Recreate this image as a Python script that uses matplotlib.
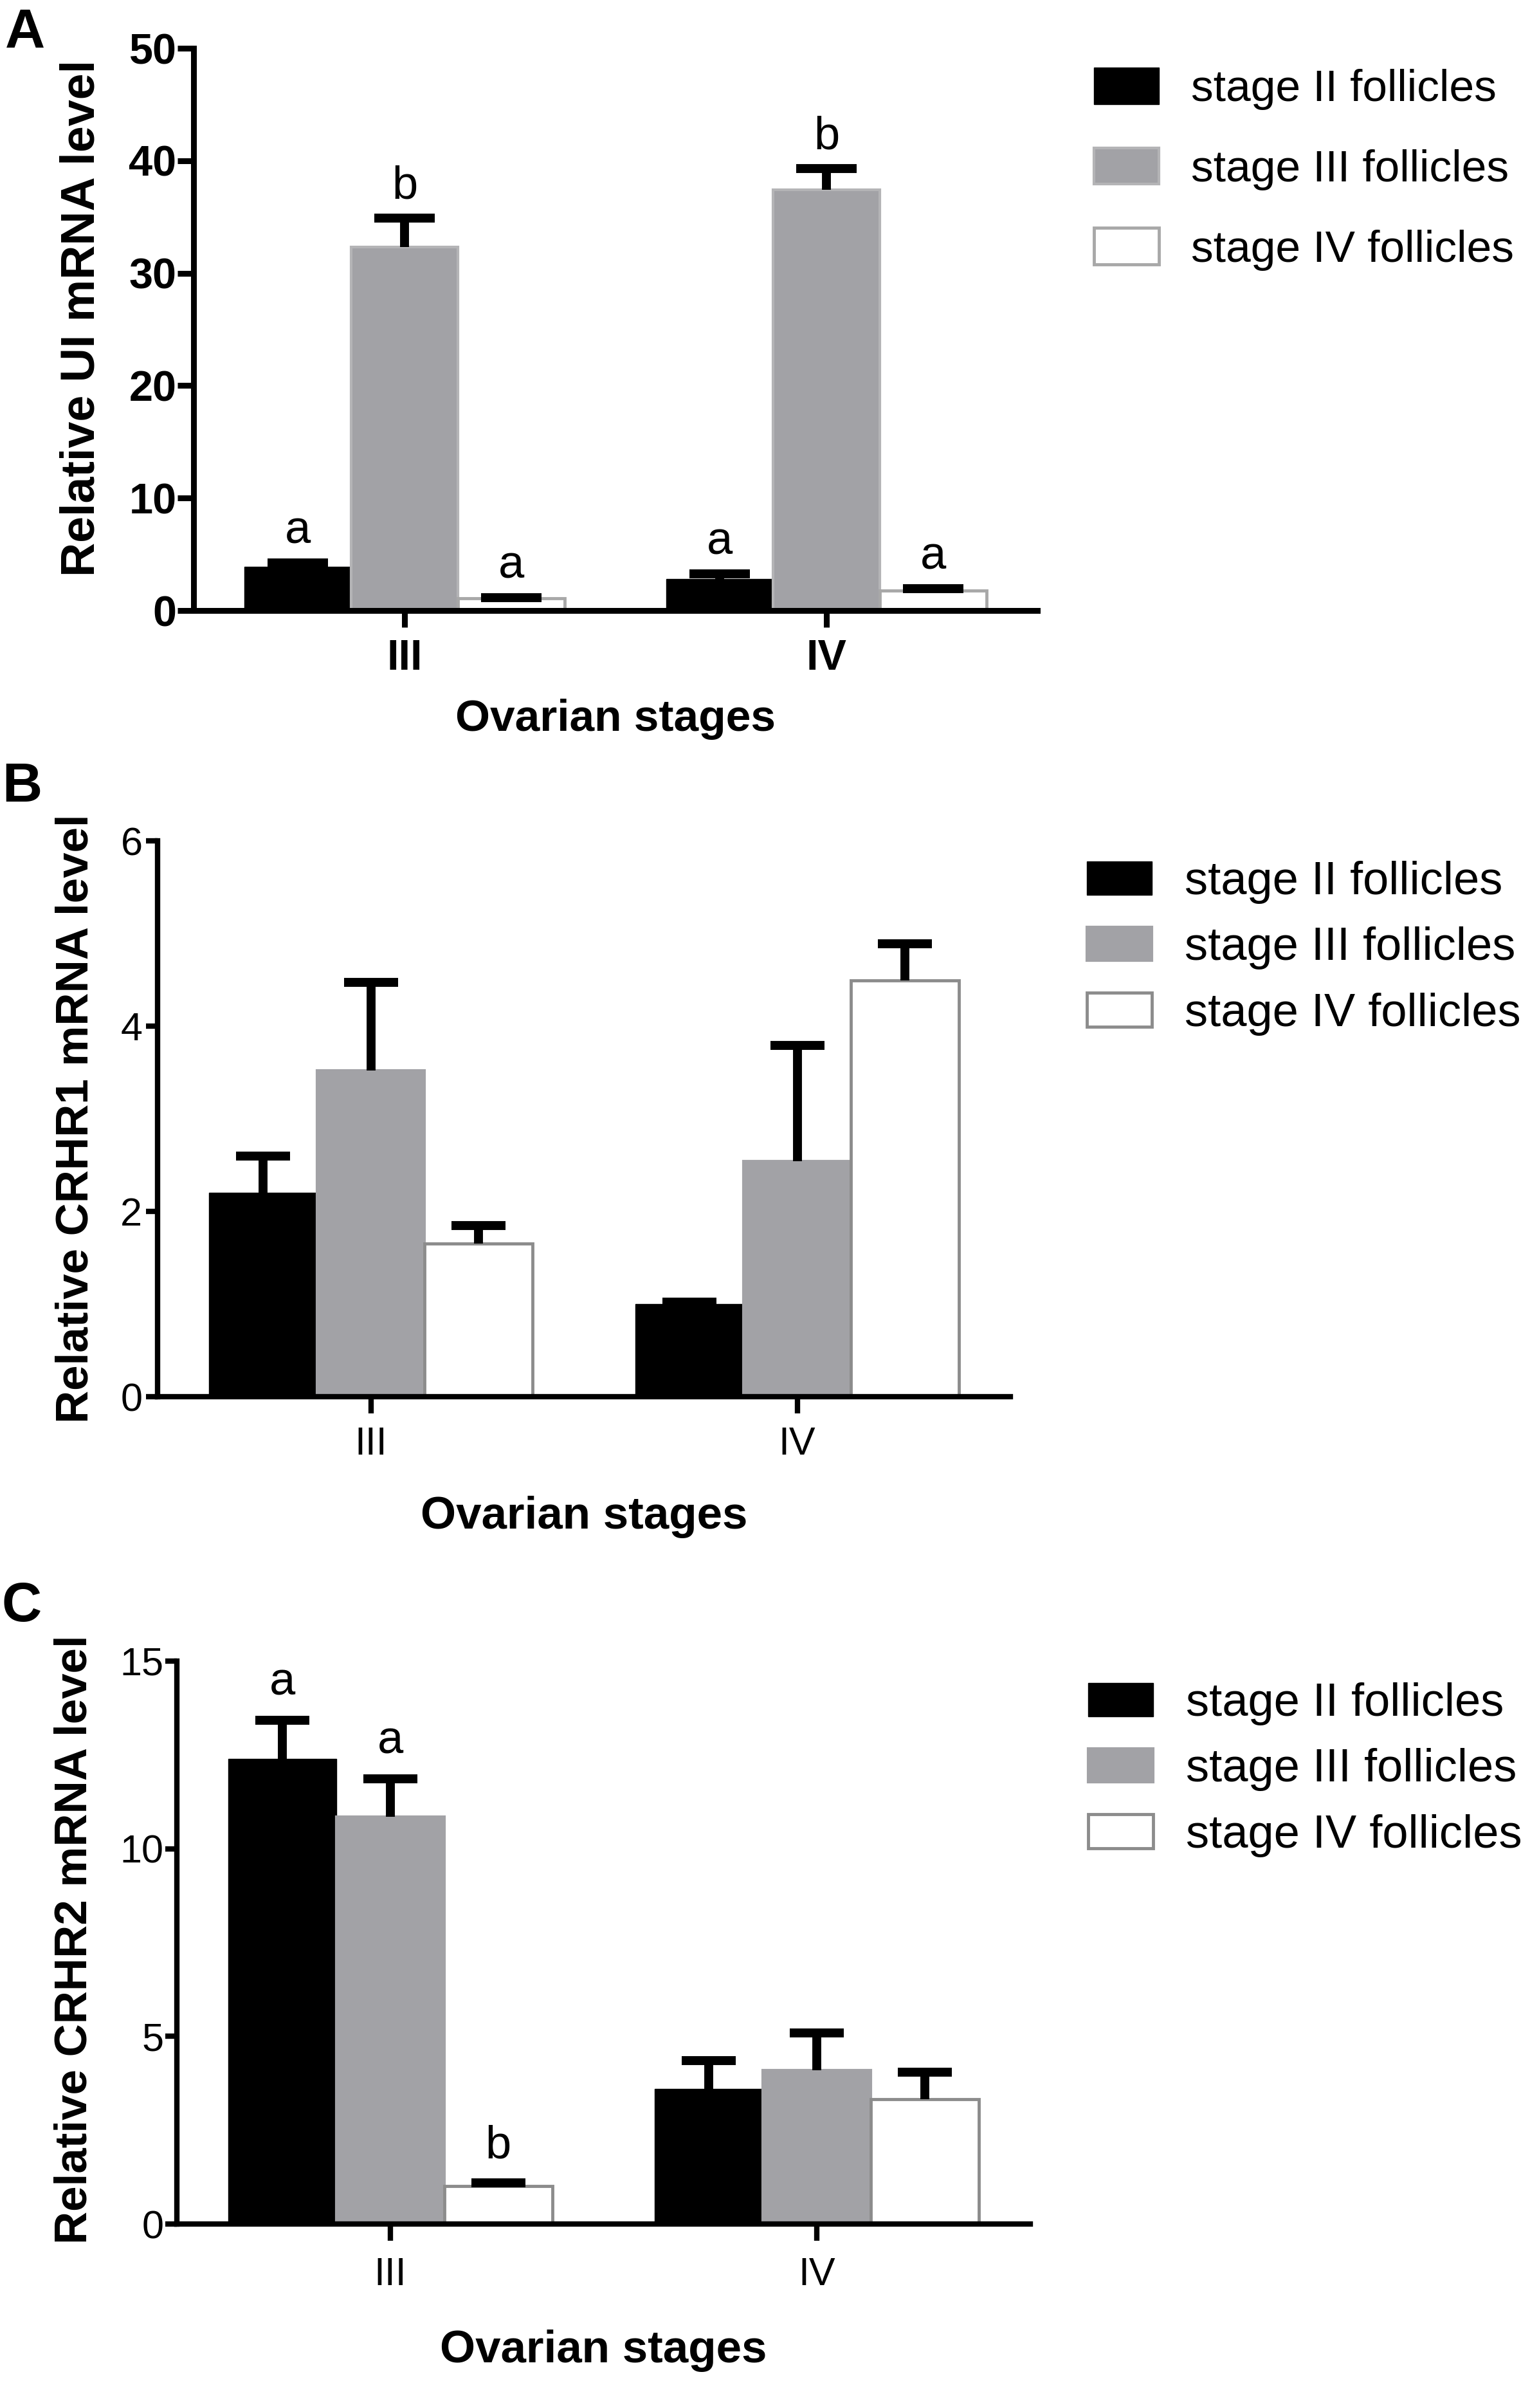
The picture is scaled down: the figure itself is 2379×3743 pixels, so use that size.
import numpy as np
import matplotlib
matplotlib.use("Agg")
import matplotlib.pyplot as plt

plt.rcParams['font.family'] = ['Liberation Sans', 'DejaVu Sans']

# ---------------- data ----------------
groups = ["III", "IV"]
series_labels = ["stage II follicles", "stage III follicles", "stage IV follicles"]

ui_stage2 = [3.9, 2.8]
ui_stage2_err = [0.35, 0.45]
ui_stage3 = [32.3, 37.4]
ui_stage3_err = [2.6, 1.9]
ui_stage4 = [1.1, 1.8]
ui_stage4_err = [0.05, 0.12]
ui_letters = [["a", "a"], ["b", "b"], ["a", "a"]]

crhr1_stage2 = [2.2, 1.0]
crhr1_stage2_err = [0.4, 0.02]
crhr1_stage3 = [3.52, 2.54]
crhr1_stage3_err = [0.95, 1.25]
crhr1_stage4 = [1.65, 4.49]
crhr1_stage4_err = [0.2, 0.4]

crhr2_stage2 = [12.4, 3.6]
crhr2_stage2_err = [1.03, 0.75]
crhr2_stage3 = [10.85, 4.1]
crhr2_stage3_err = [1.02, 1.0]
crhr2_stage4 = [1.02, 3.32]
crhr2_stage4_err = [0.07, 0.73]
crhr2_letters = [["a", ""], ["a", ""], ["b", ""]]

W, H = 2379, 3743
fig = plt.figure(figsize=(W / 100, H / 100), dpi=100)


def ax_rect(left, right, top, bottom):
    return [left / W, 1 - bottom / H, (right - left) / W, (bottom - top) / H]


GREY = "#a2a2a6"


def panel(rect, means, errs, letters, ylim, yticks, ylabel, bold_ticks,
          grey_edge, white_edge, lw_axis, ytick_len, xtick_len, ylabelpad,
          xlabelpad, xtick_pad, ytick_pad, tick_fs, ylabel_fs, xlabel_fs,
          ylabel_y, letter_off, capsize, leg_xy, leg_fs, leg_hl, leg_hh,
          leg_ls, leg_tp):
    ax = fig.add_axes(rect)
    x = np.arange(len(groups))
    w = 0.253
    offs = [-w, 0.0, w]
    styles = [
        dict(color="black", edgecolor="black", linewidth=1.0),
        dict(color=GREY, edgecolor=grey_edge, linewidth=3.0),
        dict(color="white", edgecolor=white_edge, linewidth=3.5),
    ]
    handles = []
    for i in range(3):
        b = ax.bar(x + offs[i], means[i], w, zorder=2, **styles[i])
        handles.append(b)
        eb = ax.errorbar(x + offs[i], means[i],
                         yerr=[np.zeros(len(groups)), errs[i]],
                         fmt="none", ecolor="black", elinewidth=10,
                         capsize=capsize, capthick=10, zorder=3)
        # keep only the upper caps
        for cl in eb[1]:
            yd = np.asarray(cl.get_ydata(), dtype=float)
            if np.allclose(yd, np.asarray(means[i], dtype=float)):
                cl.set_visible(False)
        if letters is not None:
            for j in range(len(groups)):
                if letters[i][j]:
                    ax.annotate(letters[i][j],
                                (x[j] + offs[i], means[i][j] + errs[i][j]),
                                xytext=(0, letter_off), textcoords="offset points",
                                ha="center", va="baseline", fontsize=52)
    ax.set_xlim(-0.5, 1.5)
    ax.set_ylim(*ylim)
    ax.set_yticks(yticks)
    ax.set_xticks(x)
    ax.set_xticklabels(groups)
    for s in ["top", "right"]:
        ax.spines[s].set_visible(False)
    for s in ["left", "bottom"]:
        ax.spines[s].set_linewidth(lw_axis)
    fw = "bold" if bold_ticks else "normal"
    ax.tick_params(axis="y", length=ytick_len, width=lw_axis, pad=ytick_pad,
                   labelsize=tick_fs)
    ax.tick_params(axis="x", length=xtick_len, width=lw_axis, pad=xtick_pad,
                   labelsize=tick_fs)
    for t in ax.get_yticklabels() + ax.get_xticklabels():
        t.set_fontweight(fw)
    ax.set_ylabel(ylabel, fontsize=ylabel_fs, fontweight="bold",
                  labelpad=ylabelpad, y=ylabel_y)
    ax.set_xlabel("Ovarian stages", fontsize=xlabel_fs, fontweight="bold",
                  labelpad=xlabelpad)
    ax.legend(handles, series_labels, loc="upper left",
              bbox_to_anchor=(leg_xy[0] / W, 1 - leg_xy[1] / H),
              bbox_transform=fig.transFigure, frameon=False, fontsize=leg_fs,
              handlelength=leg_hl, handleheight=leg_hh, labelspacing=leg_ls,
              handletextpad=leg_tp, borderpad=0, borderaxespad=0)
    return ax


# Panel A
panel(ax_rect(301, 1613, 75, 949),
      [ui_stage2, ui_stage3, ui_stage4],
      [ui_stage2_err, ui_stage3_err, ui_stage4_err],
      ui_letters, (0, 50), [0, 10, 20, 30, 40, 50],
      "Relative UI mRNA level", True, "#b4b4b6", "#a8a8a8",
      6.5, 18, 19, 28, 22, 13, 1, 48, 53, 50, 0.52, 22, 34,
      (1701, 105), 50, 1.46, 0.88, 0.84, 0.72)

# Panel B
panel(ax_rect(245, 1571, 1307, 2171),
      [crhr1_stage2, crhr1_stage3, crhr1_stage4],
      [crhr1_stage2_err, crhr1_stage3_err, crhr1_stage4_err],
      None, (0, 6), [0, 2, 4, 6],
      "Relative CRHR1 mRNA level", False, GREY, "#8c8c8c",
      6, 13, 19, 26, 37, 14, 4, 44, 51, 51, 0.5, 24, 30,
      (1690, 1338), 52, 1.40, 0.74, 0.49, 0.70)

# Panel C
panel(ax_rect(275, 1602, 2582, 3457),
      [crhr2_stage2, crhr2_stage3, crhr2_stage4],
      [crhr2_stage2_err, crhr2_stage3_err, crhr2_stage4_err],
      crhr2_letters, (0, 15), [0, 5, 10, 15],
      "Relative CRHR2 mRNA level", False, GREY, "#8c8c8c",
      6, 13, 19, 26, 40, 18, 2, 44, 51, 51, 0.505, 28, 30,
      (1692, 2615), 52, 1.40, 0.74, 0.49, 0.70)

# panel letters
for lab, px, py in [("A", 8, 12), ("B", 3, 1184), ("C", 3, 2458)]:
    fig.text(px / W, 1 - py / H, lab, fontsize=62, fontweight="bold",
             ha="left", va="top")

fig.savefig("out.png", dpi=100)
